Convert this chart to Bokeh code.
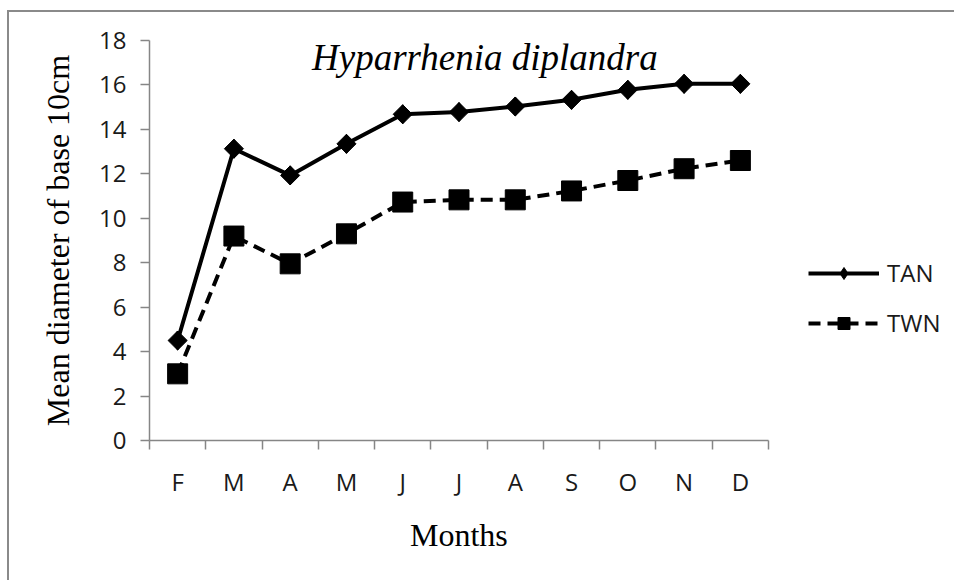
import math
from bokeh.plotting import figure
from bokeh.models import Range1d, FixedTicker, Label, Legend, LegendItem, Title
from bokeh.embed import file_html
from bokeh.resources import INLINE

# ---- data ----
months = ["F", "M", "A", "M", "J", "J", "A", "S", "O", "N", "D"]
tan = [4.5, 13.13, 11.93, 13.35, 14.68, 14.78, 15.03, 15.33, 15.78, 16.05, 16.05]
twn = [3.0, 9.2, 7.95, 9.3, 10.73, 10.83, 10.83, 11.23, 11.7, 12.23, 12.6]
y_ticks = [0, 2, 4, 6, 8, 10, 12, 14, 16, 18]
series_names = ["TAN", "TWN"]
title_text = "Hyparrhenia diplandra"
x_label = "Months"
y_label = "Mean diameter of base 10cm"

xs = [i + 0.5 for i in range(len(months))]
bounds = list(range(len(months) + 1))

AXIS_GRAY = "#868686"
SANS = "Open Sans"
SERIF = "Liberation Serif"

# layout (pixels)
W, H = 947, 570
B_LEFT, B_RIGHT, B_TOP, B_BOTTOM = 140, 4, 28, 142
FRAME_W = W - B_LEFT - B_RIGHT
AXIS_W = 619  # width covered by the 11 month categories
x_end = len(months) * FRAME_W / AXIS_W

p = figure(width=W, height=H, output_backend="svg", toolbar_location=None,
           x_range=Range1d(0, x_end), y_range=Range1d(0, y_ticks[-1]),
           min_border_left=B_LEFT, min_border_right=B_RIGHT,
           min_border_top=B_TOP, min_border_bottom=B_BOTTOM)
p.styles = {"border-top": "2px solid #8a8a8a", "border-left": "2px solid #8a8a8a",
            "margin-top": "10px", "margin-left": "7px"}
p.outline_line_color = None
p.xgrid.visible = False
p.ygrid.visible = False
p.background_fill_color = "white"
p.border_fill_color = "white"

r1 = p.line(xs, tan, line_color="black", line_width=4)
# narrow diamond (used for the legend swatch; covered by the wider diamond on the plot)
m1_leg = p.scatter(xs, tan, marker="diamond", size=19, color="black")
m1 = p.scatter(xs, tan, marker="square", angle=math.pi / 4, size=13.5, color="black")
r2 = p.line(xs, twn, line_color="black", line_width=4, line_dash="12 7")
m2 = p.scatter(xs, twn, marker="square", size=20, color="black")

# x axis: labels at category centres, tick marks at category boundaries
xa = p.xaxis[0]
xa.bounds = (0, len(months))
xa.ticker = FixedTicker(ticks=xs, minor_ticks=bounds)
xa.major_label_overrides = {x: m for x, m in zip(xs, months)}
xa.major_tick_line_color = None
xa.major_tick_out = 0
xa.major_tick_in = 0
xa.minor_tick_line_color = AXIS_GRAY
xa.minor_tick_line_width = 1.5
xa.minor_tick_out = 9
xa.minor_tick_in = 0
xa.axis_line_color = AXIS_GRAY
xa.axis_line_width = 1.5
xa.major_label_text_font = SANS
xa.major_label_text_font_size = "24px"
xa.major_label_text_color = "#1a1a1a"
xa.major_label_standoff = 15

# x-axis title, centred under the month axis (not under the wider frame)
xt = Title(text=x_label, align="left", offset=AXIS_W / 2 - 49,
           text_font=SERIF, text_font_style="normal", text_font_size="32px",
           text_color="black", standoff=28)
p.add_layout(xt, "below")

ya = p.yaxis[0]
ya.ticker = FixedTicker(ticks=y_ticks, minor_ticks=[])
ya.major_tick_line_color = AXIS_GRAY
ya.major_tick_line_width = 1.5
ya.major_tick_out = 9
ya.major_tick_in = 0
ya.minor_tick_line_color = None
ya.axis_line_color = AXIS_GRAY
ya.axis_line_width = 1.5
ya.major_label_text_font = SANS
ya.major_label_text_font_size = "24px"
ya.major_label_text_color = "#1a1a1a"
ya.major_label_standoff = 14
ya.axis_label = y_label
ya.axis_label_text_font = SERIF
ya.axis_label_text_font_style = "normal"
ya.axis_label_text_font_size = "32px"
ya.axis_label_text_color = "black"
ya.axis_label_standoff = 20

title = Label(x=5.96, y=17.25, text=title_text, text_font=SERIF,
              text_font_style="italic", text_font_size="37px",
              text_align="center", text_baseline="alphabetic", text_color="black")
p.add_layout(title)

legend = Legend(items=[LegendItem(label=series_names[0], renderers=[r1, m1_leg]),
                       LegendItem(label=series_names[1], renderers=[r2, m2])],
                location=(659, 101), orientation="vertical",
                border_line_color=None, background_fill_alpha=0,
                glyph_width=71, glyph_height=30, label_height=30,
                label_standoff=8, spacing=17, padding=10,
                label_text_font=SANS, label_text_font_size="24px",
                label_text_color="#1a1a1a")
p.add_layout(legend)

open("out.html", "w").write(file_html(p, INLINE))
